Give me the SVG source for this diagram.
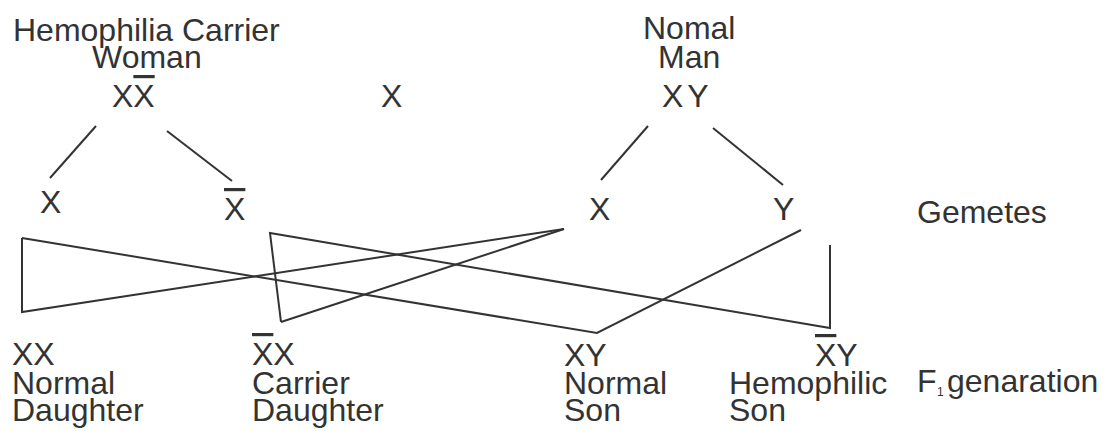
<svg xmlns="http://www.w3.org/2000/svg" width="1112" height="431" viewBox="0 0 1112 431">
<style>
  text { font-family: "Liberation Sans", Arial, sans-serif; font-size: 32px; fill: #333; }
  .bar { text-decoration: overline; }
  .sub { font-size: 12px; }
  .ln { fill: none; stroke: #333; stroke-width: 2; stroke-linejoin: miter; }
</style>
<rect width="1112" height="431" fill="#fff"/>
<g id="woman">
  <text x="13" y="41">Hemophilia Carrier</text>
  <text x="92" y="68">Woman</text>
  <text x="112" y="107">X<tspan class="bar">X</tspan></text>
</g>
<g id="cross"><text x="381" y="107">X</text></g>
<g id="man">
  <text x="643" y="39">Nomal</text>
  <text x="658" y="68">Man</text>
  <text x="662" y="107" letter-spacing="4">XY</text>
</g>
<g id="gamete-x1"><text x="40" y="213">X</text></g>
<g id="gamete-xbar"><text x="224" y="220" class="bar">X</text></g>
<g id="gamete-x2"><text x="589" y="220">X</text></g>
<g id="gamete-y"><text x="773" y="220">Y</text></g>
<g id="label-gametes"><text x="917" y="223">Gemetes</text></g>
<g id="normal-daughter">
  <text x="12" y="365">XX</text>
  <text x="12" y="394">Normal</text>
  <text x="12" y="421">Daughter</text>
</g>
<g id="carrier-daughter">
  <text x="252" y="365"><tspan class="bar">X</tspan>X</text>
  <text x="252" y="394">Carrier</text>
  <text x="252" y="421">Daughter</text>
</g>
<g id="normal-son">
  <text x="564" y="366">XY</text>
  <text x="564" y="394">Normal</text>
  <text x="564" y="421">Son</text>
</g>
<g id="hemophilic-son">
  <text x="815" y="366"><tspan class="bar">X</tspan>Y</text>
  <text x="729" y="394">Hemophilic</text>
  <text x="729" y="421">Son</text>
</g>
<g id="label-f1">
  <text x="917" y="392">F</text>
  <text x="937" y="396" class="sub">1</text>
  <text x="947" y="392">genaration</text>
</g>
<g id="connectors" class="ln">
  <line x1="96" y1="126" x2="50" y2="178"/>
  <line x1="167" y1="131" x2="232" y2="181"/>
  <line x1="648" y1="126" x2="601" y2="180"/>
  <line x1="713" y1="128" x2="783" y2="185"/>
  <polyline points="22,238 22,312 564,229"/>
  <polyline points="22,238 597,333 801,230"/>
  <polyline points="281,322 270,233 830,328 830,245"/>
  <line x1="281" y1="322" x2="564" y2="229"/>
</g>
</svg>
